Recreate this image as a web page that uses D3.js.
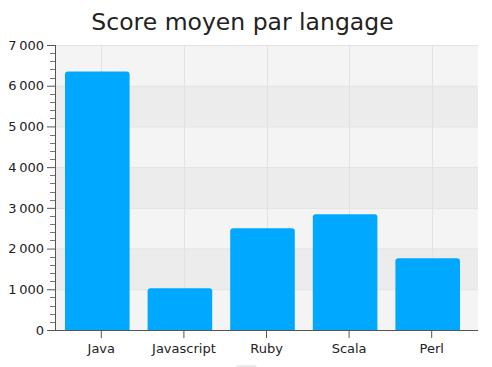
<!DOCTYPE html>
<html><head><meta charset="utf-8">
<script src="https://cdn.jsdelivr.net/npm/d3@7"></script>
<style>body{margin:0;background:#fff}svg{display:block}</style>
</head><body>
<script>
const categories = ["Java","Javascript","Ruby","Scala","Perl"];
const values = [6350, 1025, 2500, 2840, 1760];
const yTicks = [0,1000,2000,3000,4000,5000,6000,7000];
const title = "Score moyen par langage";

const W=492,H=367;
const L=55,R=478,T=45,B=330;
const svg=d3.select("body").append("svg").attr("width",W).attr("height",H);
const font="'DejaVu Sans', 'Noto Sans', sans-serif";

const x=d3.scaleBand().domain(categories).range([L+5,R-5]).paddingInner(0).paddingOuter(0);
const y=d3.scaleLinear().domain([0,7000]).range([B,T]);

svg.append("rect").attr("x",L).attr("y",T).attr("width",R-L).attr("height",B-T).attr("fill","#f4f4f4");
svg.selectAll("rect.alt").data(yTicks.slice(0,-1).filter((d,i)=>i%2===1)).enter().append("rect")
  .attr("x",L).attr("width",R-L).attr("y",d=>y(d+1000)).attr("height",d=>y(d)-y(d+1000)).attr("fill","#ececec");
svg.selectAll("line.hg").data(yTicks.slice(1)).enter().append("line")
  .attr("x1",L).attr("x2",R).attr("y1",d=>y(d)+0.5).attr("y2",d=>y(d)+0.5).attr("stroke","#e2e2e2");
svg.selectAll("line.vg").data(categories).enter().append("line")
  .attr("y1",T).attr("y2",B).attr("x1",d=>Math.round(x(d)+x.bandwidth()/2)+0.5).attr("x2",d=>Math.round(x(d)+x.bandwidth()/2)+0.5).attr("stroke","#e2e2e2");

const bw=x.bandwidth()-18, r=3;
svg.selectAll("path.bar").data(categories).enter().append("path")
  .attr("fill","#00a8ff")
  .attr("d",(d,i)=>{
    const x0=x(d)+5, x1=x0+bw, y0=y(values[i]), y1=B;
    return `M${x0},${y1}V${y0+r}Q${x0},${y0} ${x0+r},${y0}H${x1-r}Q${x1},${y0} ${x1},${y0+r}V${y1}Z`;
  });

const ya=d3.axisLeft(y).tickValues(yTicks).tickSize(8).tickPadding(3)
  .tickFormat(d=>d3.format(",")(d).replace(/,/g,"\u202f"));
const yg=svg.append("g").attr("transform",`translate(${L},0)`).call(ya);
yg.select(".domain").attr("d",`M0.5,${T}V${B}`).attr("stroke","#555");
yg.selectAll(".tick line").attr("stroke","#555");
yg.selectAll(".tick text").attr("font-family",font).attr("font-size",13).attr("fill","#222");
const minors=d3.range(0,7001,200).filter(v=>v%1000!==0);
svg.selectAll("line.minor").data(minors).enter().append("line")
  .attr("x1",L-5).attr("x2",L).attr("y1",d=>Math.round(y(d))+0.5).attr("y2",d=>Math.round(y(d))+0.5).attr("stroke","#777");

const xa=d3.axisBottom(x).tickSize(8).tickPadding(6);
const xg=svg.append("g").attr("transform",`translate(0,${B})`).call(xa);
xg.select(".domain").attr("d",`M${L},0.5H${R}`).attr("stroke","#555");
xg.selectAll(".tick line").attr("stroke","#555");
xg.selectAll(".tick text").attr("font-family",font).attr("font-size",13).attr("fill","#222");

svg.append("text").attr("x",242.5).attr("y",30).attr("text-anchor","middle")
  .attr("font-family",font).attr("font-size",23.5).attr("fill","#222").text(title);

svg.append("rect").attr("x",236).attr("y",365).attr("width",21).attr("height",8).attr("rx",3).attr("fill","#eaeaea");
</script>
</body></html>
